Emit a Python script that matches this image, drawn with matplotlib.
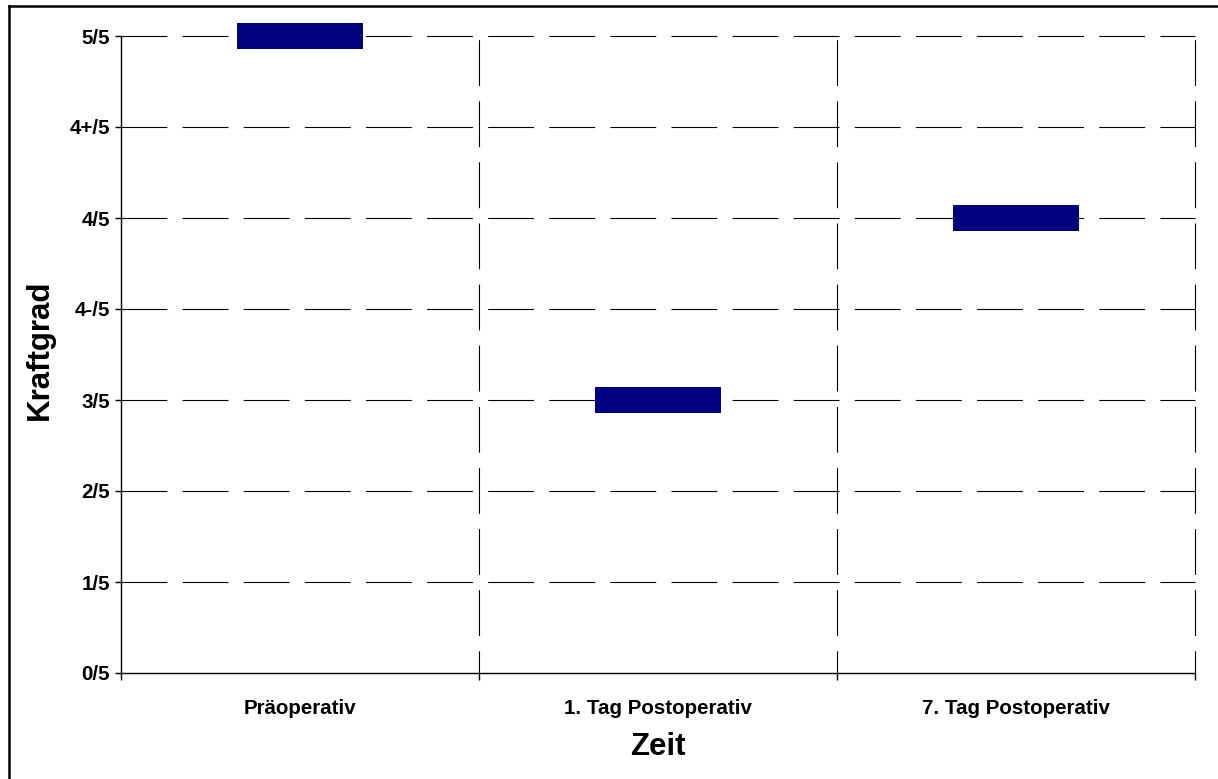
import matplotlib
matplotlib.use("Agg")
import matplotlib.pyplot as plt
from matplotlib.lines import Line2D
from matplotlib.ticker import FixedLocator, NullFormatter, FixedFormatter

plt.rcParams['font.family'] = ['Liberation Sans', 'DejaVu Sans']
plt.rcParams['font.weight'] = 'bold'
plt.rcParams['lines.scale_dashes'] = False

# Data
zeitpunkte = ['Präoperativ', '1. Tag Postoperativ', '7. Tag Postoperativ']
kraftgrade = ['0/5', '1/5', '2/5', '3/5', '4-/5', '4/5', '4+/5', '5/5']
befund = ['5/5', '3/5', '4/5']

W, H = 1218, 779
fig = plt.figure(figsize=(W / 100, H / 100), dpi=100)
ax = fig.add_axes([121 / W, 1 - 673 / H, (1195 - 121) / W, (673 - 36) / H])

x = list(range(len(zeitpunkte)))
y = [kraftgrade.index(b) for b in befund]

bar_w = 0.35
bar_h = 0.28
bars = ax.bar(x, [bar_h] * len(y), bottom=[v - bar_h / 2 for v in y],
              width=bar_w, color='#000080', edgecolor='none', zorder=3)
for b in bars:
    b.set_clip_on(False)

ax.set_xlim(-0.5, len(zeitpunkte) - 0.5)
ax.set_ylim(0, len(kraftgrade) - 1)

# y axis
ax.set_yticks(range(len(kraftgrade)))
ax.set_yticklabels(kraftgrade, fontweight='bold')
ax.tick_params(axis='y', length=4, width=1, pad=4, labelsize=14.8, color='black')

# x axis: ticks at category boundaries, labels at category centres
ax.xaxis.set_major_locator(FixedLocator([i - 0.5 for i in range(len(zeitpunkte) + 1)]))
ax.xaxis.set_major_formatter(NullFormatter())
ax.xaxis.set_minor_locator(FixedLocator(x))
ax.xaxis.set_minor_formatter(FixedFormatter(zeitpunkte))
ax.tick_params(axis='x', which='major', length=5, width=1, direction='out', color='black')
ax.tick_params(axis='x', which='minor', length=0, pad=19, labelsize=14.8)
for lbl in ax.get_xticklabels(minor=True):
    lbl.set_fontweight('bold')

for s in ['top', 'right']:
    ax.spines[s].set_visible(False)
for s in ['left', 'bottom']:
    ax.spines[s].set_linewidth(1.0)
    ax.spines[s].set_color('black')

# dashed grid
dash = (0, (33, 11))
ax.grid(True, axis='y', which='major', color='black', linewidth=0.8, linestyle=dash, zorder=1)
ax.grid(True, axis='x', which='major', color='black', linewidth=0.8, linestyle=(17, (33, 11)), zorder=1)
ax.set_axisbelow(True)
for gl in ax.get_ygridlines() + ax.get_xgridlines():
    gl.set_clip_on(False)
ax.get_ygridlines()[0].set_visible(False)
ax.get_xgridlines()[0].set_visible(False)

ax.set_xlabel('Zeit', fontsize=22.5, fontweight='bold')
ax.xaxis.set_label_coords(0.5, (1 - 747 / H - (1 - 673 / H)) / ((673 - 36) / H), transform=ax.transAxes)
ax.xaxis.label.set_va('center')
ax.set_ylabel('Kraftgrad', fontsize=22.5, fontweight='bold')
ax.yaxis.set_label_coords((40 - 121) / (1195 - 121), (673 - 350) / (673 - 36), transform=ax.transAxes)
ax.yaxis.label.set_va('center')

# outer frame
fig.add_artist(Line2D([8.5 / W, 8.5 / W], [0, 1 - 5.5 / H], color='black', linewidth=1.8,
                      transform=fig.transFigure))
fig.add_artist(Line2D([8.5 / W, 1], [1 - 5.5 / H, 1 - 5.5 / H], color='black', linewidth=1.8,
                      transform=fig.transFigure))

fig.savefig('out.png', dpi=100)
